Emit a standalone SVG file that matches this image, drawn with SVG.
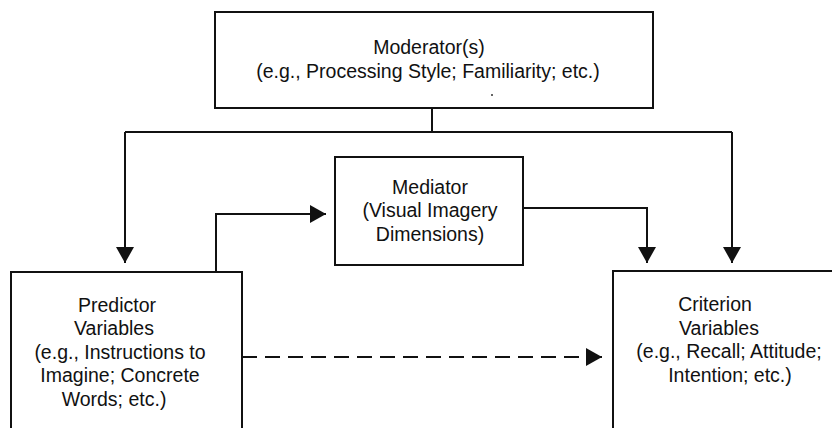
<svg xmlns="http://www.w3.org/2000/svg" width="832" height="428" viewBox="0 0 832 428">
<style>
.box{fill:#fff;stroke:#111;stroke-width:2}
.ln{fill:none;stroke:#111;stroke-width:2}
.dash{stroke-dasharray:15 8}
text{font-family:"Liberation Sans",Arial,sans-serif;font-size:19.5px;fill:#111;text-anchor:middle}
</style>
<defs>
<marker id="ah" markerUnits="userSpaceOnUse" markerWidth="16" markerHeight="18" refX="16" refY="9" orient="auto" viewBox="0 0 16 18">
<path d="M0,0 L16,9 L0,18 z" fill="#111"/>
</marker>
</defs>
<rect width="832" height="428" fill="#fff"/>
<g id="connectors">
<path class="ln" d="M432,108 V132"/>
<path class="ln" d="M125,132 H732"/>
<path class="ln" d="M125,132 V263" marker-end="url(#ah)"/>
<path class="ln" d="M732,132 V263" marker-end="url(#ah)"/>
<path class="ln" d="M216,272 V214 H326" marker-end="url(#ah)"/>
<path class="ln" d="M523,208 H647 V263" marker-end="url(#ah)"/>
<path class="ln dash" d="M242,357 H602" marker-end="url(#ah)"/>
</g>
<g id="moderator">
<rect class="box" x="215" y="12" width="438" height="96"/>
<text x="429" y="54">Moderator(s)</text>
<text x="428" y="78">(e.g., Processing Style; Familiarity; etc.)</text>
<circle cx="492" cy="95" r="1" fill="#333"/>
</g>
<g id="mediator">
<rect class="box" x="335" y="157" width="188" height="108"/>
<text x="430" y="194">Mediator</text>
<text x="430" y="217">(Visual Imagery</text>
<text x="430" y="241">Dimensions)</text>
</g>
<g id="predictor">
<rect class="box" x="11" y="272" width="231" height="170"/>
<text x="117" y="312">Predictor</text>
<text x="114" y="335">Variables</text>
<text x="120" y="359">(e.g., Instructions to</text>
<text x="120" y="382">Imagine; Concrete</text>
<text x="114" y="406">Words; etc.)</text>
</g>
<g id="criterion">
<rect class="box" x="613" y="271" width="240" height="170"/>
<text x="715" y="311">Criterion</text>
<text x="719" y="335">Variables</text>
<text x="729" y="358">(e.g., Recall; Attitude;</text>
<text x="730" y="382">Intention; etc.)</text>
</g>
</svg>
